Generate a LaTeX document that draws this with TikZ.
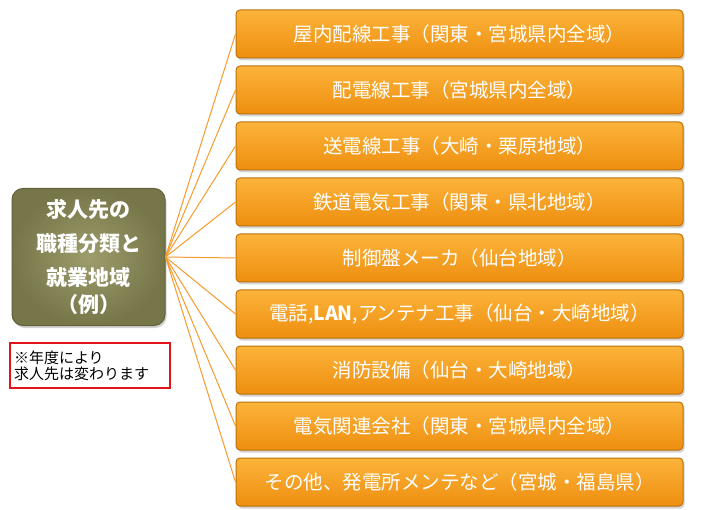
\documentclass[tikz,border=0pt]{standalone}
\usepackage{fontspec}
\setmainfont{Noto Sans CJK JP}
\usetikzlibrary{positioning,shadows}
\definecolor{jobfill}{HTML}{F7A01E}
\definecolor{jobtop}{HTML}{FBB43A}
\definecolor{jobbot}{HTML}{EE8E10}
\definecolor{jobedge}{HTML}{B8720E}
\definecolor{olivein}{HTML}{9C9C6C}
\definecolor{oliveout}{HTML}{767649}
\definecolor{oliveedge}{HTML}{62623C}
\definecolor{linkline}{HTML}{F79A2C}
\definecolor{noteedge}{HTML}{E0141A}

\begin{document}
\begin{tikzpicture}[x=1pt,y=-1pt,
      job/.style={draw=jobedge,line width=1pt,rounded corners=4pt,
                  top color=jobtop,bottom color=jobbot,
                  drop shadow={shadow xshift=1.5pt,shadow yshift=-2.5pt,opacity=0.35},
                  minimum width=447pt,minimum height=48pt,inner sep=0pt,
                  text=white,font=\fontsize{19.5}{22}\selectfont},
      cat/.style={draw=oliveedge,line width=1pt,rounded corners=11pt,
                  inner color=olivein,outer color=oliveout,
                  drop shadow={shadow xshift=1.5pt,shadow yshift=-2.5pt,opacity=0.35},
                  minimum width=153pt,minimum height=137pt,inner sep=0pt,
                  align=center,text=white,font=\fontsize{21}{34}\selectfont\bfseries},
      note/.style={draw=noteedge,line width=2.2pt,fill=white,
                   minimum width=158pt,minimum height=45pt,inner sep=4pt,
                   align=left,font=\fontsize{15}{16}\selectfont},
      link/.style={linkline,line width=1pt}]
    \useasboundingbox (0,0) rectangle (706,510);
    \node[job] (j1) at (459.5,34)  {屋内配線工事（関東・宮城県内全域）};
    \node[job] (j2) at (459.5,90)  {配電線工事（宮城県内全域）};
    \node[job] (j3) at (459.5,146) {送電線工事（大崎・栗原地域）};
    \node[job] (j4) at (459.5,202) {鉄道電気工事（関東・県北地域）};
    \node[job] (j5) at (459.5,258) {制御盤メーカ（仙台地域）};
    \node[job] (j6) at (459.5,314) {電話,\textbf{LAN},アンテナ工事（仙台・大崎地域）};
    \node[job] (j7) at (459.5,370) {消防設備（仙台・大崎地域）};
    \node[job] (j8) at (459.5,426) {電気関連会社（関東・宮城県内全域）};
    \node[job] (j9) at (459.5,482) {その他、発電所メンテなど（宮城・福島県）};
    \node[cat] (area) at (88.5,257) {求人先の\\職種分類と\\就業地域\\[-7pt]（例）};
    \node[note,text width=152pt] (memo) at (90,365.5) {※年度により\\求人先は変わります};
    \draw[link] (area.east) -- (j1.west);
    \draw[link] (area.east) -- (j2.west);
    \draw[link] (area.east) -- (j3.west);
    \draw[link] (area.east) -- (j4.west);
    \draw[link] (area.east) -- (j5.west);
    \draw[link] (area.east) -- (j6.west);
    \draw[link] (area.east) -- (j7.west);
    \draw[link] (area.east) -- (j8.west);
    \draw[link] (area.east) -- (j9.west);
  \end{tikzpicture}
\end{document}
